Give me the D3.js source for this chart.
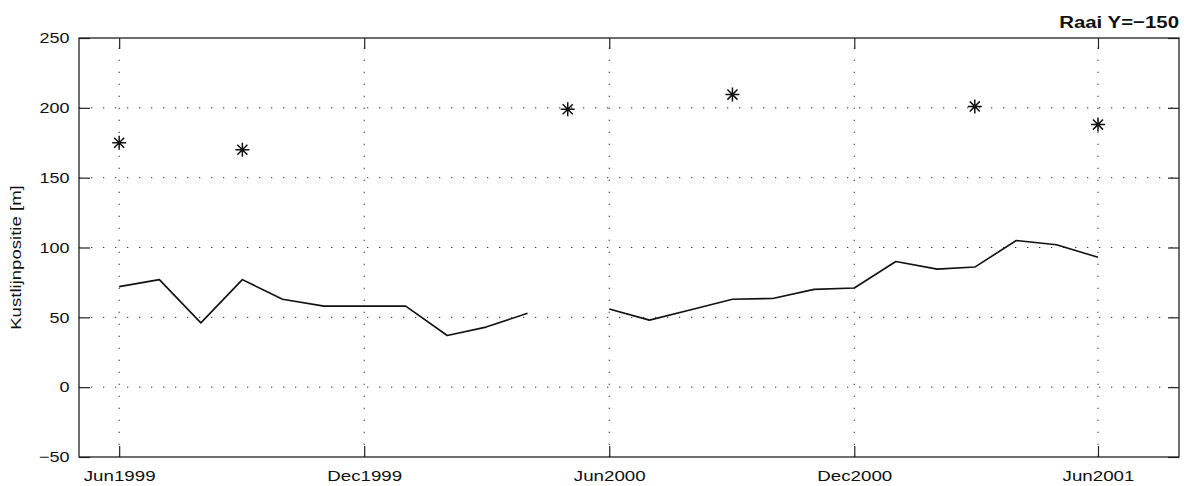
<!DOCTYPE html>
<html>
<head>
<meta charset="utf-8">
<script src="https://cdn.jsdelivr.net/npm/d3@7"></script>
<style>
  html, body { margin: 0; padding: 0; background: #fff; }
  svg { display: block; }
  text { font-family: "Liberation Sans", Arial, Helvetica, sans-serif; fill: #111; }
</style>
</head>
<body>
<svg id="chart" width="1184" height="486"></svg>
<script>
// Monthly shoreline position (line), May 2000 missing
const lineMonths = [
  "1999-06-01","1999-07-01","1999-08-01","1999-09-01","1999-10-01","1999-11-01",
  "1999-12-01","2000-01-01","2000-02-01","2000-03-01","2000-04-01","2000-05-01",
  "2000-06-01","2000-07-01","2000-08-01","2000-09-01","2000-10-01","2000-11-01",
  "2000-12-01","2001-01-01","2001-02-01","2001-03-01","2001-04-01","2001-05-01",
  "2001-06-01"
];
const lineValues = [
  72, 77, 46, 77, 63, 58,
  58, 58, 37, 43, 53, null,
  56, 48, 55.5, 63, 63.5, 70,
  71, 90, 84.5, 86, 105, 102,
  93
];

// Survey positions (star markers)
const starDates = ["1999-06-01","1999-09-01","2000-05-01","2000-09-01","2001-03-01","2001-06-01"];
const starValues = [175, 170, 199, 209.5, 201, 188];

// Axis ticks
const xTickDates = ["1999-06-01","1999-12-01","2000-06-01","2000-12-01","2001-06-01"];
const yTicks = [-50, 0, 50, 100, 150, 200, 250];
const yGrid = [0, 50, 100, 150, 200];

const titleText = "Raai Y=\u2212150";
const yLabelText = "Kustlijnpositie [m]";

const parse = d3.utcParse("%Y-%m-%d");
const fmt = d3.utcFormat("%b%Y");

const svg = d3.select("#chart");
const L = 79, R = 1179, T = 38, B = 457;

const x = d3.scaleUtc()
  .domain([Date.UTC(1999, 4, 2), Date.UTC(2001, 6, 31, 12)])
  .range([L, R]);
const y = d3.scaleLinear().domain([-50, 250]).range([B, T]);

const xt = xTickDates.map(parse);

// dotted grid
const grid = svg.append("g")
  .attr("stroke", "#333").attr("stroke-width", 1)
  .attr("stroke-dasharray", "1.3 10.7");
grid.selectAll("line.h").data(yGrid).join("line")
  .attr("class", "h")
  .attr("x1", L).attr("x2", R)
  .attr("y1", d => y(d)).attr("y2", d => y(d));
grid.selectAll("line.v").data(xt).join("line")
  .attr("class", "v")
  .attr("x1", d => x(d)).attr("x2", d => x(d))
  .attr("y1", B).attr("y2", T);

// axes with inward ticks
const tick = 11;
const gB = svg.append("g").attr("transform", `translate(0,${B})`)
  .call(d3.axisBottom(x).tickValues(xt).tickFormat(fmt)
    .tickSizeInner(-tick).tickSizeOuter(0).tickPadding(13));
const gT = svg.append("g").attr("transform", `translate(0,${T})`)
  .call(d3.axisTop(x).tickValues(xt).tickFormat("")
    .tickSizeInner(-tick).tickSizeOuter(0));
const gL = svg.append("g").attr("transform", `translate(${L},0)`)
  .call(d3.axisLeft(y).tickValues(yTicks)
    .tickSizeInner(-tick).tickSizeOuter(0).tickPadding(8));
const gR = svg.append("g").attr("transform", `translate(${R},0)`)
  .call(d3.axisRight(y).tickValues(yTicks).tickFormat("")
    .tickSizeInner(-tick).tickSizeOuter(0));

[gB, gT, gL, gR].forEach(g => {
  g.select(".domain").remove();
  g.selectAll(".tick line").attr("stroke", "#222").attr("stroke-width", 1.2);
});
gB.selectAll("text")
  .attr("font-size", 15).attr("fill", "#111")
  .attr("font-family", "Liberation Sans, Arial, sans-serif")
  .attr("transform", "scale(1.25,1)");
gL.selectAll("text")
  .text(d => d < 0 ? "\u2212" + Math.abs(d) : d)
  .attr("font-size", 15).attr("fill", "#111")
  .attr("font-family", "Liberation Sans, Arial, sans-serif")
  .attr("transform", "scale(1.2,1)");

// frame
svg.append("rect")
  .attr("x", L).attr("y", T).attr("width", R - L).attr("height", B - T)
  .attr("fill", "none").attr("stroke", "#222").attr("stroke-width", 1.3);

// shoreline line
const lineData = lineMonths.map((d, i) => ({ date: parse(d), value: lineValues[i] }));
const line = d3.line()
  .defined(d => d.value != null)
  .x(d => x(d.date)).y(d => y(d.value));
svg.append("path")
  .datum(lineData)
  .attr("fill", "none").attr("stroke", "#111").attr("stroke-width", 1.6)
  .attr("stroke-linejoin", "round")
  .attr("d", line);

// star markers
const r = 7, rd = r * 0.72;
const starPath = `M${-r},0H${r}M0,${-r}V${r}M${-rd},${-rd}L${rd},${rd}M${-rd},${rd}L${rd},${-rd}`;
svg.append("g").selectAll("path")
  .data(starDates.map((d, i) => ({ date: parse(d), value: starValues[i] })))
  .join("path")
  .attr("transform", d => `translate(${x(d.date)},${y(d.value)})`)
  .attr("d", starPath)
  .attr("fill", "none").attr("stroke", "#111").attr("stroke-width", 1.5);

// title
svg.append("text")
  .attr("transform", `translate(${R},28) scale(1.2,1)`)
  .attr("text-anchor", "end")
  .attr("font-size", 17).attr("font-weight", "bold")
  .text(titleText);

// y-axis label
svg.append("text")
  .attr("transform", `translate(21,${(T + B) / 2 + 10}) rotate(-90) scale(1.24,1)`)
  .attr("text-anchor", "middle")
  .attr("font-size", 15)
  .text(yLabelText);
</script>
</body>
</html>
